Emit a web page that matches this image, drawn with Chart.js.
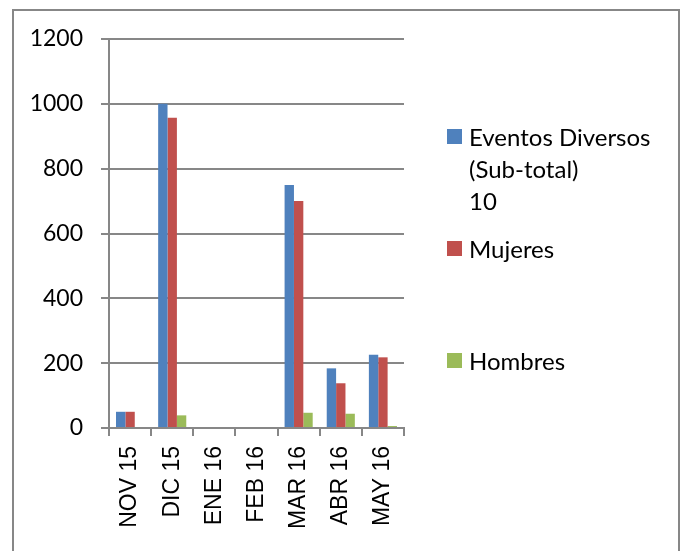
<!DOCTYPE html>
<html>
<head>
<meta charset="utf-8">
<script src="https://cdn.jsdelivr.net/npm/chart.js@4"></script>
<style>
  html, body { margin: 0; padding: 0; background: #fff; overflow: hidden; }
  #wrap { position: relative; width: 683px; height: 551px; }
  #frame { position: absolute; left: 12px; top: 9px; width: 664px; height: 600px; border: 2px solid #878787; }
  #chart { position: absolute; left: 0; top: 0; }
  #legend { position: absolute; left: 447px; top: 121px; font-family: Lato, sans-serif; font-size: 24px; color: #000; }
  .item { height: 112px; display: flex; align-items: flex-start; }
  .box { width: 15px; height: 15px; margin-top: 8px; margin-right: 7px; flex: none; }
  .txt { line-height: 32px; white-space: pre-line; }
</style>
</head>
<body>
<div id="wrap">
  <div id="frame"></div>
  <canvas id="chart" width="683" height="551"></canvas>
  <div id="legend"></div>
</div>
<script>
// datos
const meses = ['NOV 15', 'DIC 15', 'ENE 16', 'FEB 16', 'MAR 16', 'ABR 16', 'MAY 16'];
const eventos = [50, 1000, 0, 0, 750, 184, 226];
const mujeres = [50, 957, 0, 0, 700, 138, 218];
const hombres = [0, 39, 0, 0, 47, 44, 6];
const nombres = ['Eventos Diversos (Sub-total)\n10', 'Mujeres', 'Hombres'];
const colores = ['#4F81BD', '#C0504D', '#9BBB59'];

const gris = '#878787';

const chart = new Chart(document.getElementById('chart').getContext('2d'), {
    type: 'bar',
    data: {
        labels: meses,
        datasets: [eventos, mujeres, hombres].map((d, i) => ({
            label: nombres[i],
            data: d,
            backgroundColor: colores[i],
            categoryPercentage: 0.667,
            barPercentage: 1
        }))
    },
    options: {
        responsive: false,
        animation: false,
        layout: { padding: { left: 0, right: 279, top: 39, bottom: 0 } },
        plugins: { legend: { display: false }, tooltip: { enabled: false } },
        scales: {
            x: {
                afterFit: axis => { axis.height = 123; },
                grid: { offset: true, drawOnChartArea: false, color: gris, lineWidth: 2, tickLength: 8 },
                border: { color: gris, width: 2 },
                ticks: {
                    minRotation: 90, maxRotation: 90, padding: 10, color: '#000',
                    font: { family: 'Liberation Sans', size: 23 }
                }
            },
            y: {
                min: 0, max: 1200,
                afterFit: axis => { axis.width = 109; },
                grid: { color: gris, lineWidth: 2, tickLength: 8 },
                border: { color: gris, width: 2 },
                ticks: {
                    stepSize: 200, padding: 18, color: '#000',
                    font: { family: 'Lato', size: 23 },
                    callback: v => String(v)
                }
            }
        }
    }
});

// leyenda
const legend = document.getElementById('legend');
chart.data.datasets.forEach(ds => {
    const item = document.createElement('div');
    item.className = 'item';
    const box = document.createElement('div');
    box.className = 'box';
    box.style.background = ds.backgroundColor;
    const txt = document.createElement('div');
    txt.className = 'txt';
    txt.textContent = ds.label;
    item.appendChild(box);
    item.appendChild(txt);
    legend.appendChild(item);
});
</script>
</body>
</html>
